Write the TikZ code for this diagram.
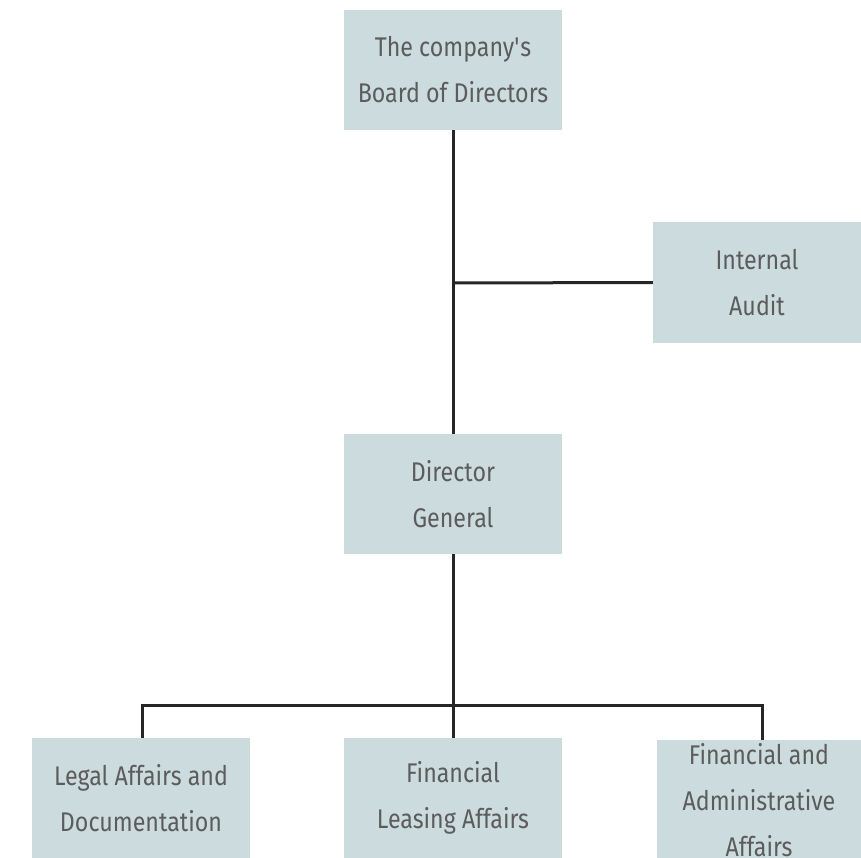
\documentclass[tikz,border=0pt]{standalone}
\usepackage{fontspec}
\setmainfont[FakeStretch=0.86]{Fira Sans}
\definecolor{boxfill}{HTML}{CCDBDE}
\definecolor{boxtext}{HTML}{5C5C5C}
\tikzset{
  unit/.style={fill=boxfill, text=boxtext, align=center, minimum width=218pt,
    minimum height=120pt, inner sep=0pt, font=\fontsize{27}{46}\selectfont},
  link/.style={line width=3pt, draw=black!85}
}
\begin{document}
\begin{tikzpicture}[x=1pt, y=-1pt, line join=miter]
	\useasboundingbox (0,0) rectangle (861,858);
	\node[unit] (board) at (453,70) {The company\textquotesingle s\\Board of Directors};
	\node[unit, minimum width=208pt, minimum height=121pt] (audit) at (757,282.5) {Internal\\Audit};
	\node[unit] (dg) at (453,494) {Director\\General};
	\node[unit] (legal) at (141,798) {Legal Affairs and\\Documentation};
	\node[unit] (leasing) at (453,798) {Financial\\Leasing Affairs};
	\node[unit, minimum width=204pt] (admin) at (759,800) {Financial and\\Administrative\\Affairs};
	% junctions
	\coordinate (j1) at (453,283);
	\coordinate (j2) at (453,705);
	\draw[link] (board.south) -- (dg.north);
	\draw[link] (j1) -- (audit.west);
	\draw[link] (dg.south) -- (j2);
	\draw[link] (legal.north -| 142,0) |- (j2) -| (admin.north -| 762,0);
	\draw[link] (j2) -- (leasing.north);
\end{tikzpicture}
\end{document}
